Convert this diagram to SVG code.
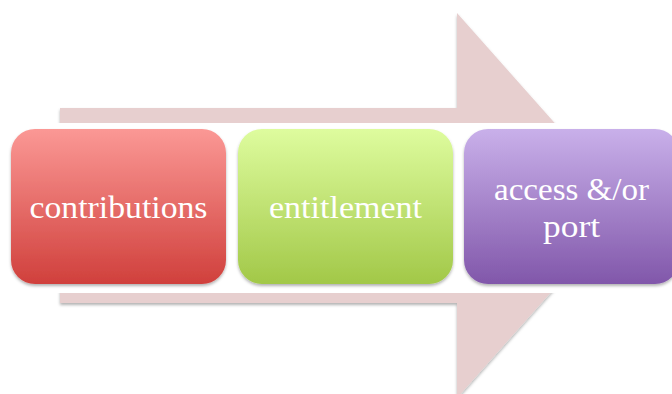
<svg xmlns="http://www.w3.org/2000/svg" width="672" height="394" viewBox="0 0 672 394">
<defs>
<linearGradient id="gr" x1="0" y1="0" x2="0" y2="1"><stop offset="0" stop-color="#fb9895"/><stop offset="1" stop-color="#d0403c"/></linearGradient>
<linearGradient id="gg" x1="0" y1="0" x2="0" y2="1"><stop offset="0" stop-color="#defc9e"/><stop offset="1" stop-color="#a2c848"/></linearGradient>
<linearGradient id="gp" x1="0" y1="0" x2="0" y2="1"><stop offset="0" stop-color="#c9b0ea"/><stop offset="1" stop-color="#8157aa"/></linearGradient>
<filter id="sh" x="-10%" y="-10%" width="120%" height="130%"><feDropShadow dx="0" dy="2" stdDeviation="1.5" flood-color="#000" flood-opacity="0.3"/></filter>
</defs>
<style>
.box{filter:url(#sh);}
.lbl{font-family:"Liberation Serif","DejaVu Serif",serif;font-size:32px;fill:#ffffff;text-anchor:middle;}
</style>
<rect width="672" height="394" fill="#ffffff"/>
<g id="arrow">
<polygon points="60,108 457,108 457,13 628,205.5 457,398 457,303 60,303" fill="#e7cfcf" filter="url(#sh)"/>
<rect x="0" y="123" width="672" height="170" fill="#ffffff"/>
</g>
<g id="node-contributions">
<rect class="box" x="11" y="129" width="215" height="155" rx="24" fill="url(#gr)"/>
<text class="lbl" x="118.5" y="218" textLength="178" lengthAdjust="spacingAndGlyphs">contributions</text>
</g>
<g id="node-entitlement">
<rect class="box" x="238" y="129" width="215" height="155" rx="24" fill="url(#gg)"/>
<text class="lbl" x="345.5" y="218" textLength="153" lengthAdjust="spacingAndGlyphs">entitlement</text>
</g>
<g id="node-access">
<rect class="box" x="464" y="129" width="215" height="155" rx="24" fill="url(#gp)"/>
<text class="lbl" x="571.5" y="200" textLength="155" lengthAdjust="spacingAndGlyphs">access &amp;/or</text>
<text class="lbl" x="571.5" y="237" textLength="57" lengthAdjust="spacingAndGlyphs">port</text>
</g>
<g id="connectors"/>
</svg>
